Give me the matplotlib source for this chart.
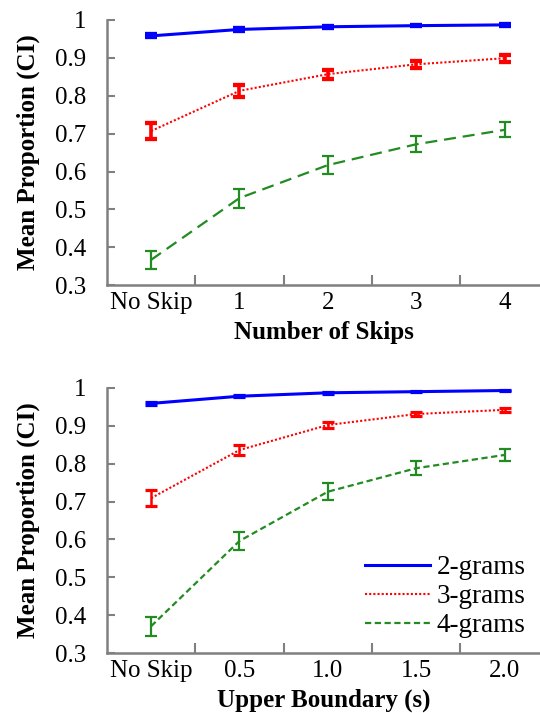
import matplotlib
matplotlib.use("Agg")
import matplotlib.pyplot as plt

plt.rcParams['font.family'] = ['Liberation Serif', 'DejaVu Serif']

skip_labels = ['No Skip', '1', '2', '3', '4']
bound_labels = ['No Skip', '0.5', '1.0', '1.5', '2.0']

# number of skips
skip_2g = [0.958, 0.975, 0.982, 0.985, 0.987]
skip_2g_ci = [0.004, 0.003, 0.003, 0.002, 0.002]
skip_3g = [0.707, 0.813, 0.857, 0.883, 0.899]
skip_3g_ci = [0.021, 0.016, 0.012, 0.010, 0.009]
skip_4g = [0.367, 0.530, 0.617, 0.672, 0.710]
skip_4g_ci = [0.024, 0.025, 0.024, 0.021, 0.020]

# upper boundary
bound_2g = [0.959, 0.978, 0.987, 0.990, 0.993]
bound_2g_ci = [0.004, 0.003, 0.002, 0.002, 0.002]
bound_3g = [0.709, 0.836, 0.902, 0.931, 0.942]
bound_3g_ci = [0.021, 0.014, 0.008, 0.006, 0.006]
bound_4g = [0.371, 0.596, 0.726, 0.788, 0.823]
bound_4g_ci = [0.025, 0.024, 0.022, 0.019, 0.015]

fig = plt.figure(figsize=(5.4, 7.13), dpi=100)
ax1 = fig.add_axes([0.198, 0.600, 0.802, 0.372])
ax2 = fig.add_axes([0.198, 0.084, 0.802, 0.372])

FS = 18


def draw(ax, labels, s2, c2, s3, c3, s4, c4, xlabel, dash, bar_w, legend=False):
    x = list(range(len(labels)))
    ax.errorbar(x, s2, yerr=c2, color='#0000ff', lw=2.2, ls='-',
                capsize=4.5, capthick=bar_w + 0.5, elinewidth=bar_w,
                label='2-grams')
    ax.errorbar(x, s3, yerr=c3, color='#ff0000', lw=1.5, ls=(0, (1, 1)),
                capsize=4.5, capthick=bar_w + 0.5, elinewidth=bar_w,
                label='3-grams')
    ax.errorbar(x, s4, yerr=c4, color='#228b22', lw=1.6, ls=(0, dash),
                capsize=4.5, capthick=1.6, elinewidth=1.6, label='4-grams')
    ax.set_ylim(0.3, 1.0)
    ax.set_yticks([0.3, 0.4, 0.5, 0.6, 0.7, 0.8, 0.9, 1.0])
    ax.set_yticklabels(['0.3', '0.4', '0.5', '0.6', '0.7', '0.8', '0.9', '1'])
    ax.set_xlim(-0.5, 4.4)
    ax.set_xticks(x)
    ax.set_xticklabels(labels)
    ax.set_xticks([0.5, 1.5, 2.5, 3.5], minor=True)
    ax.tick_params(axis='x', which='major', length=0, labelsize=FS, pad=5)
    ax.tick_params(axis='x', which='minor', direction='in', length=7,
                   width=1.5, color='#808080')
    ax.tick_params(axis='y', direction='in', length=6, width=1.5,
                   color='#808080', labelsize=FS, pad=15)
    for side in ['top', 'right']:
        ax.spines[side].set_visible(False)
    for side in ['left', 'bottom']:
        ax.spines[side].set_color('#808080')
        ax.spines[side].set_linewidth(1.8)
    ax.set_xlabel(xlabel, fontsize=FS, fontweight='bold', labelpad=5)
    ax.set_ylabel('Mean Proportion (CI)', fontsize=FS, fontweight='bold',
                  labelpad=11)
    if legend:
        handles, lbls = ax.get_legend_handles_labels()
        handles = [h[0] for h in handles]
        ax.legend(handles, lbls, loc='lower right', frameon=False,
                  fontsize=19.5, handlelength=2.4, handletextpad=0.25,
                  labelspacing=0.15, borderaxespad=0.3,
                  bbox_to_anchor=(1.01, -0.015))


draw(ax1, skip_labels, skip_2g, skip_2g_ci, skip_3g, skip_3g_ci,
     skip_4g, skip_4g_ci, 'Number of Skips', (5.4, 3.1), 2.6)
draw(ax2, bound_labels, bound_2g, bound_2g_ci, bound_3g, bound_3g_ci,
     bound_4g, bound_4g_ci, 'Upper Boundary (s)', (2.8, 1.6), 1.8, legend=True)

fig.savefig('out.png', dpi=100)
